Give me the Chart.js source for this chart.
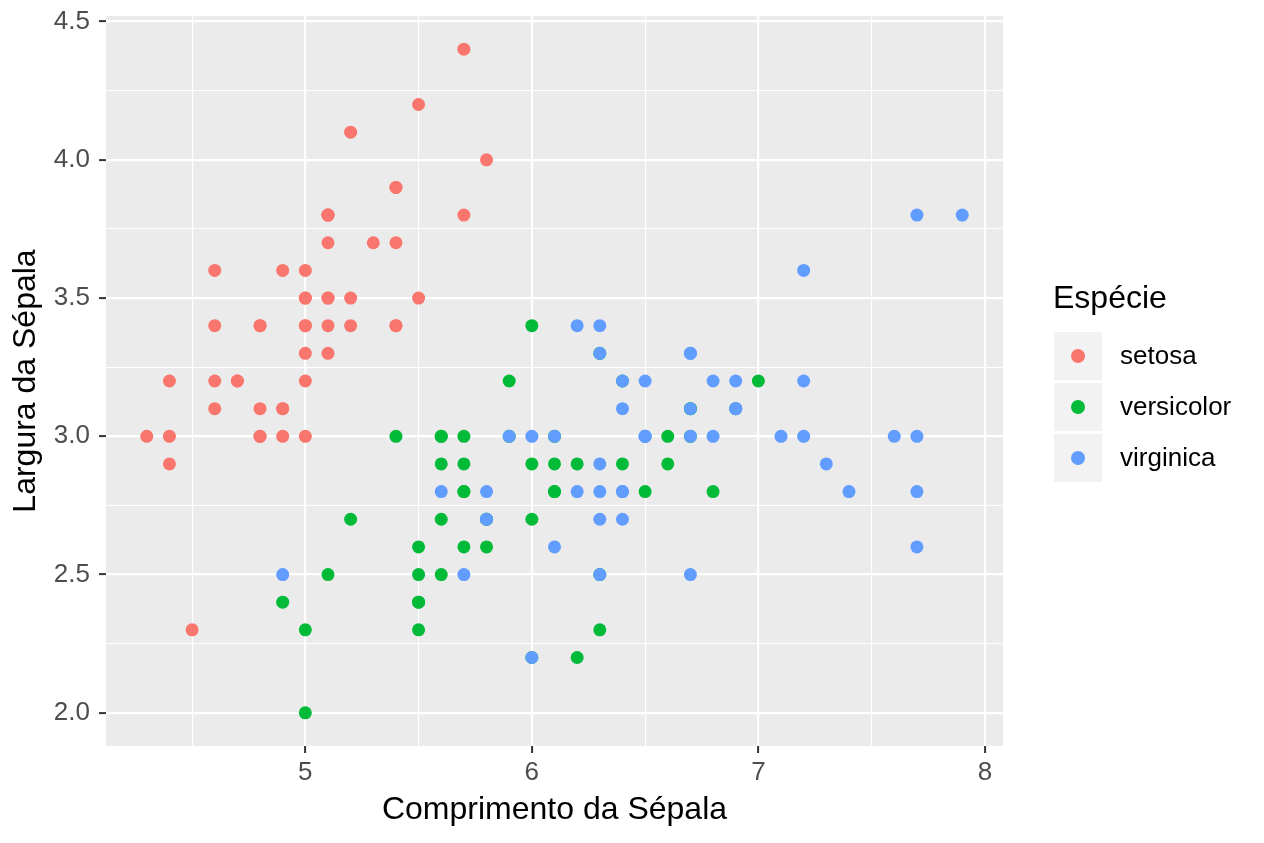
<!DOCTYPE html>
<html>
<head>
<meta charset="utf-8">
<script src="https://cdn.jsdelivr.net/npm/chart.js@4"></script>
<style>
  html, body { margin:0; padding:0; background:#fff; }
  #wrap { position:relative; width:1264px; height:843px; }
  #legend { position:absolute; left:1053px; top:279px; font-family:"Liberation Sans", Arial, sans-serif; color:#000; }
  #legend .title { font-size:32px; height:51px; line-height:37px; }
  #legend .row { display:flex; align-items:center; height:51px; }
  #legend .key { width:48px; height:48px; background:#F2F2F2; margin-left:1px; position:relative; }
  #legend .dot { position:absolute; left:17px; top:17px; width:14px; height:14px; border-radius:50%; }
  #legend .lab { font-size:26px; margin-left:18px; }
</style>
</head>
<body>
<div id="wrap">
  <canvas id="chart" width="1264" height="843"></canvas>
  <div id="legend"></div>
</div>
<script>
/* ================================
   DATA
================================ */
const species = ["setosa", "versicolor", "virginica"];
const colors = ["#F8766D", "#00BA38", "#619CFF"];

const setosaLength = [5.1,4.9,4.7,4.6,5.0,5.4,4.6,5.0,4.4,4.9,5.4,4.8,4.8,4.3,5.8,5.7,5.4,5.1,5.7,5.1,5.4,5.1,4.6,5.1,4.8,5.0,5.0,5.2,5.2,4.7,4.8,5.4,5.2,5.5,4.9,5.0,5.5,4.9,4.4,5.1,5.0,4.5,4.4,5.0,5.1,4.8,5.1,4.6,5.3,5.0];
const setosaWidth  = [3.5,3.0,3.2,3.1,3.6,3.9,3.4,3.4,2.9,3.1,3.7,3.4,3.0,3.0,4.0,4.4,3.9,3.5,3.8,3.8,3.4,3.7,3.6,3.3,3.4,3.0,3.4,3.5,3.4,3.2,3.1,3.4,4.1,4.2,3.1,3.2,3.5,3.6,3.0,3.4,3.5,2.3,3.2,3.5,3.8,3.0,3.8,3.2,3.7,3.3];

const versicolorLength = [7.0,6.4,6.9,5.5,6.5,5.7,6.3,4.9,6.6,5.2,5.0,5.9,6.0,6.1,5.6,6.7,5.6,5.8,6.2,5.6,5.9,6.1,6.3,6.1,6.4,6.6,6.8,6.7,6.0,5.7,5.5,5.5,5.8,6.0,5.4,6.0,6.7,6.3,5.6,5.5,5.5,6.1,5.8,5.0,5.6,5.7,5.7,6.2,5.1,5.7];
const versicolorWidth  = [3.2,3.2,3.1,2.3,2.8,2.8,3.3,2.4,2.9,2.7,2.0,3.0,2.2,2.9,2.9,3.1,3.0,2.7,2.2,2.5,3.2,2.8,2.5,2.8,2.9,3.0,2.8,3.0,2.9,2.6,2.4,2.4,2.7,2.7,3.0,3.4,3.1,2.3,3.0,2.5,2.6,3.0,2.6,2.3,2.7,3.0,2.9,2.9,2.5,2.8];

const virginicaLength = [6.3,5.8,7.1,6.3,6.5,7.6,4.9,7.3,6.7,7.2,6.5,6.4,6.8,5.7,5.8,6.4,6.5,7.7,7.7,6.0,6.9,5.6,7.7,6.3,6.7,7.2,6.2,6.1,6.4,7.2,7.4,7.9,6.4,6.3,6.1,7.7,6.3,6.4,6.0,6.9,6.7,6.9,5.8,6.8,6.7,6.7,6.3,6.5,6.2,5.9];
const virginicaWidth  = [3.3,2.7,3.0,2.9,3.0,3.0,2.5,2.9,2.5,3.6,3.2,2.7,3.0,2.5,2.8,3.2,3.0,3.8,2.6,2.2,3.2,2.8,2.8,2.7,3.3,3.2,2.8,3.0,2.8,3.0,2.8,3.8,2.8,2.8,2.6,3.0,3.4,3.1,3.0,3.1,3.1,3.1,2.7,3.2,3.3,3.0,2.5,3.0,3.4,3.0];

const xMajorTicks = [5, 6, 7, 8];
const xMinorTicks = [4.5, 5.5, 6.5, 7.5];
const yMajorTicks = [2.0, 2.5, 3.0, 3.5, 4.0, 4.5];
const yMinorTicks = [2.25, 2.75, 3.25, 3.75, 4.25];

const xTitle = "Comprimento da Sépala";
const yTitle = "Largura da Sépala";
const legendTitle = "Espécie";

/* ================================
   HELPERS
================================ */
const zip = (xs, ys) => xs.map((x, i) => ({ x, y: ys[i] }));
const seriesX = [setosaLength, versicolorLength, virginicaLength];
const seriesY = [setosaWidth, versicolorWidth, virginicaWidth];

const isMajor = (list, v) => list.some(t => Math.abs(t - v) < 1e-9);

const FONT = "'Liberation Sans', Arial, sans-serif";

/* panel background like ggplot */
const panelBg = {
  id: "panelBg",
  beforeDraw(chart) {
    const { ctx, chartArea: a } = chart;
    ctx.save();
    ctx.fillStyle = "#EBEBEB";
    ctx.fillRect(a.left, a.top, a.right - a.left, a.bottom - a.top);
    ctx.restore();
  }
};

function gridFor(majors) {
  return {
    color: "#FFFFFF",
    lineWidth: c => isMajor(majors, c.tick.value) ? 2.2 : 1.1,
    tickColor: c => isMajor(majors, c.tick.value) ? "#333333" : "rgba(0,0,0,0)",
    tickWidth: 2,
    tickLength: 7,
    drawTicks: true
  };
}

/* no extra room for overhanging labels: keep panel fixed */
function noPad(s) {
  s.paddingTop = 0;
  s.paddingBottom = 0;
  s.paddingLeft = 0;
  s.paddingRight = 0;
}

/* ================================
   SCATTER CHART
================================ */
const ctx = document.getElementById("chart");

new Chart(ctx, {
  type: "scatter",
  data: {
    datasets: species.map((name, i) => ({
      label: name,
      data: zip(seriesX[i], seriesY[i]),
      backgroundColor: colors[i],
      borderColor: colors[i],
      borderWidth: 0,
      pointRadius: 6.5,
      pointHoverRadius: 6.5,
      order: species.length - i   // later species drawn on top, like ggplot
    }))
  },
  options: {
    responsive: false,
    animation: false,
    events: [],
    layout: { padding: { left: 0, right: 261, top: 16, bottom: 0 } },
    plugins: {
      legend: { display: false },
      tooltip: { enabled: false }
    },
    scales: {
      x: {
        type: "linear",
        min: 4.12,
        max: 8.08,
        border: { display: false },
        grid: gridFor(xMajorTicks),
        afterBuildTicks: s => {
          s.ticks = [...xMinorTicks, ...xMajorTicks].sort((a, b) => a - b).map(v => ({ value: v }));
        },
        afterFit: s => { s.height = 97; noPad(s); },
        ticks: {
          padding: 4,
          color: "#4D4D4D",
          font: { family: FONT, size: 26 },
          maxRotation: 0,
          autoSkip: false,
          callback: v => isMajor(xMajorTicks, v) ? String(v) : ""
        },
        title: {
          display: true,
          text: xTitle,
          color: "#000",
          font: { family: FONT, size: 32 },
          padding: { top: 0, bottom: 14 }
        }
      },
      y: {
        type: "linear",
        min: 1.88,
        max: 4.52,
        border: { display: false },
        grid: gridFor(yMajorTicks),
        afterBuildTicks: s => {
          s.ticks = [...yMinorTicks, ...yMajorTicks].sort((a, b) => a - b).map(v => ({ value: v }));
        },
        afterFit: s => { s.width = 106; noPad(s); },
        ticks: {
          padding: 9,
          color: "#4D4D4D",
          font: { family: FONT, size: 26 },
          autoSkip: false,
          callback: v => isMajor(yMajorTicks, v) ? v.toFixed(1) : ""
        },
        title: {
          display: true,
          text: yTitle,
          color: "#000",
          font: { family: FONT, size: 32 },
          padding: { top: 7, bottom: 0 }
        }
      }
    }
  },
  plugins: [panelBg]
});

/* ================================
   LEGEND
================================ */
const legend = document.getElementById("legend");
legend.innerHTML =
  `<div class="title">${legendTitle}</div>` +
  species.map((name, i) =>
    `<div class="row"><div class="key"><div class="dot" style="background:${colors[i]}"></div></div><div class="lab">${name}</div></div>`
  ).join("");
</script>
</body>
</html>
